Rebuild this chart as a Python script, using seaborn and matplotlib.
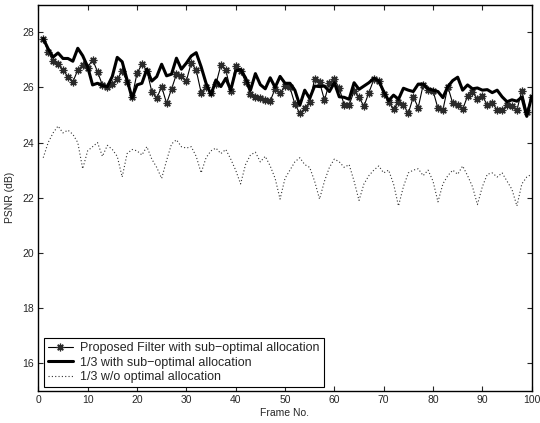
import matplotlib
matplotlib.use("Agg")
import matplotlib.pyplot as plt
import numpy as np
import pandas as pd
import seaborn as sns

# Frame numbers
frames = list(range(1, 101))

# Proposed Filter with sub-optimal allocation (asterisk markers)
psnr_proposed = [
    27.77, 27.29, 26.96, 26.84, 26.63, 26.39, 26.20, 26.63, 26.81, 26.72,
    27.01, 26.57, 26.08, 26.02, 26.14, 26.29, 26.60, 26.20, 25.64, 26.51,
    26.84, 26.61, 25.85, 25.60, 26.03, 25.42, 25.94, 26.48, 26.42, 26.23,
    26.90, 26.63, 25.81, 26.03, 25.81, 26.12, 26.81, 26.63, 25.87, 26.78,
    26.61, 26.21, 25.76, 25.67, 25.63, 25.55, 25.50, 25.96, 25.79, 26.05,
    26.00, 25.40, 25.06, 25.24, 25.48, 26.30, 26.19, 25.54, 26.17, 26.29,
    25.97, 25.36, 25.36, 25.87, 25.64, 25.32, 25.81, 26.29, 26.24, 25.76,
    25.48, 25.20, 25.48, 25.36, 25.06, 25.66, 25.27, 26.09, 25.90, 25.88,
    25.24, 25.18, 26.03, 25.42, 25.38, 25.20, 25.69, 25.85, 25.57, 25.69,
    25.36, 25.45, 25.18, 25.18, 25.36, 25.33, 25.18, 25.88, 25.12, 25.64,
]

# 1/3 with sub-optimal allocation (bold line)
psnr_third_subopt = [
    27.77, 27.40, 27.10, 27.25, 27.05, 27.05, 26.95, 27.42, 27.15, 26.75,
    26.09, 26.15, 26.07, 26.03, 26.40, 27.09, 26.93, 26.27, 25.62, 26.09,
    26.15, 26.66, 26.23, 26.39, 26.84, 26.42, 26.48, 27.06, 26.66, 26.88,
    27.14, 27.26, 26.75, 26.15, 25.73, 26.27, 26.03, 26.33, 25.90, 26.60,
    26.65, 26.35, 25.90, 26.50, 26.10, 25.95, 26.35, 26.00, 26.40, 26.15,
    26.15, 25.90, 25.35, 25.90, 25.60, 26.05, 26.03, 26.05, 25.85, 26.17,
    25.66, 25.64, 25.57, 26.17, 25.93, 26.05, 26.17, 26.33, 26.24, 25.85,
    25.52, 25.72, 25.57, 25.97, 25.90, 25.85, 26.12, 26.12, 25.95, 25.90,
    25.85, 25.63, 26.03, 26.25, 26.37, 25.90, 26.09, 25.95, 25.98, 25.90,
    25.92, 25.81, 25.90, 25.66, 25.48, 25.55, 25.50, 25.65, 24.95, 25.67,
]

# 1/3 w/o optimal allocation (dotted line)
psnr_third_noopt = [
    23.45, 24.00, 24.35, 24.60, 24.35, 24.45, 24.30, 24.00, 23.05, 23.70,
    23.85, 24.00, 23.50, 23.90, 23.75, 23.50, 22.75, 23.60, 23.75, 23.70,
    23.55, 23.85, 23.40, 23.10, 22.70, 23.35, 23.95, 24.10, 23.85, 23.80,
    23.85, 23.50, 22.90, 23.45, 23.70, 23.80, 23.60, 23.75, 23.40, 23.00,
    22.50, 23.20, 23.55, 23.65, 23.30, 23.50, 23.15, 22.70, 21.95, 22.70,
    23.00, 23.30, 23.45, 23.20, 23.10, 22.60, 21.95, 22.60, 23.10, 23.40,
    23.30, 23.10, 23.20, 22.60, 21.90, 22.50, 22.80, 23.00, 23.15, 22.90,
    23.00, 22.50, 21.70, 22.40, 22.90, 23.00, 23.05, 22.80, 23.00, 22.60,
    21.85, 22.50, 22.80, 23.00, 22.85, 23.15, 22.80, 22.40, 21.75, 22.40,
    22.85, 22.90, 22.75, 22.90, 22.60, 22.30, 21.70, 22.50, 22.75, 22.85,
]

labels = [
    "Proposed Filter with sub\u2212optimal allocation",
    "1/3 with sub\u2212optimal allocation",
    "1/3 w/o optimal allocation",
]

x_ticks = list(range(0, 101, 10))
y_ticks = list(range(16, 29, 2))

sns.set_style("ticks")
plt.rcParams['font.family'] = ['Liberation Sans', 'DejaVu Sans']

fig = plt.figure(figsize=(5.4, 4.23), dpi=100)
ax = fig.add_axes([38.3 / 540, 1 - 390.7 / 423, 493.4 / 540, 386.0 / 423])

sns.lineplot(x=frames, y=psnr_proposed, ax=ax, color='black', linewidth=0.8,
             marker=(8, 2, 0), markersize=5.5, markeredgewidth=0.9,
             markeredgecolor='#2a2a2a', label=labels[0])
sns.lineplot(x=frames, y=psnr_third_subopt, ax=ax, color='black', linewidth=2.2,
             label=labels[1])
sns.lineplot(x=frames, y=psnr_third_noopt, ax=ax, color='#333333', linewidth=0.8,
             linestyle=(0, (1, 2)), label=labels[2])

ax.set_xlim(0, 100)
ax.set_ylim(15, 29)
ax.set_xticks(x_ticks)
ax.set_yticks(y_ticks)
ax.tick_params(direction='in', top=True, right=True, length=3.5, width=0.8,
               labelsize=7.5, pad=3)
for sp in ax.spines.values():
    sp.set_linewidth(1.0)
    sp.set_color('black')

ax.set_xlabel("Frame No.", fontsize=7.5, labelpad=2)
ax.set_ylabel("PSNR (dB)", fontsize=7.5, labelpad=5)

leg = ax.legend(loc='lower left', bbox_to_anchor=(0.012, 0.01), borderaxespad=0,
                fontsize=9, frameon=True, fancybox=False, framealpha=1,
                edgecolor='black', handlelength=2.0, labelspacing=0.2,
                borderpad=0.3, handletextpad=0.6)
leg.get_frame().set_linewidth(0.8)

fig.savefig("out.png", dpi=100)
